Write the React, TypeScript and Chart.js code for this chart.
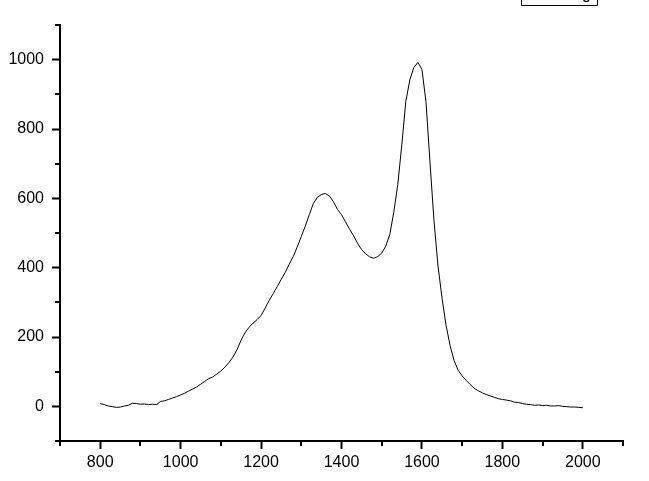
import React, { useEffect, useRef } from "react";
import { Chart, registerables } from "chart.js";

Chart.register(...registerables);

const wavenumbers: number[] = [
  800, 810, 820, 830, 840, 850, 860, 870, 880, 890,
  900, 910, 920, 930, 940, 950, 960, 970, 980, 990,
  1000, 1010, 1020, 1030, 1040, 1050, 1060, 1070, 1080, 1090,
  1100, 1110, 1120, 1130, 1140, 1150, 1160, 1170, 1180, 1190,
  1200, 1210, 1220, 1230, 1240, 1250, 1260, 1270, 1280, 1290,
  1300, 1310, 1320, 1330, 1340, 1350, 1360, 1370, 1380, 1390,
  1400, 1410, 1420, 1430, 1440, 1450, 1460, 1470, 1480, 1490,
  1500, 1510, 1520, 1530, 1540, 1550, 1560, 1570, 1580, 1590,
  1600, 1610, 1620, 1630, 1640, 1650, 1660, 1670, 1680, 1690,
  1700, 1710, 1720, 1730, 1740, 1750, 1760, 1770, 1780, 1790,
  1800, 1810, 1820, 1830, 1840, 1850, 1860, 1870, 1880, 1890,
  1900, 1910, 1920, 1930, 1940, 1950, 1960, 1970, 1980, 1990,
  2000,
];

const intensity: number[] = [
  8, 5, 1, -1, -3, -2, 1, 3, 9, 8,
  6, 7, 5, 6, 5, 14, 16, 20, 24, 28,
  33, 38, 44, 50, 56, 64, 72, 80, 85, 93,
  102, 113, 126, 142, 163, 190, 212, 228, 240, 250,
  262, 283, 305, 325, 345, 366, 386, 410, 432, 460,
  490, 520, 553, 585, 603, 611, 614, 607, 590, 568,
  553, 532, 511, 492, 470, 452, 440, 431, 427, 432,
  442, 462, 495, 560, 640, 755, 880, 942, 978, 992,
  972, 880, 705, 535, 405, 312, 234, 175, 132, 104,
  88, 75, 63, 52, 45, 39, 34, 30, 26, 22,
  20, 18, 16, 12, 11, 8, 6, 5, 3, 4,
  2, 3, 1, 1, 2, 0, -1, -2, -2, -3,
  -4,
];

const X_MIN = 700;
const X_MAX = 2100;
const Y_MIN = -100;
const Y_MAX = 1100;
const LABEL_STEP = 200;
const MINOR_STEP = 100;

const legendPlugin = {
  id: "legendBoxPartial",
  afterDraw(chart: any) {
    const ctx = chart.ctx;
    ctx.save();
    ctx.strokeStyle = "#000";
    ctx.lineWidth = 1;
    ctx.beginPath();
    ctx.moveTo(521.5, -2);
    ctx.lineTo(521.5, 5.5);
    ctx.lineTo(597.5, 5.5);
    ctx.lineTo(597.5, -2);
    ctx.stroke();
    ctx.fillStyle = "#000";
    ctx.font = "16px 'Liberation Sans', Arial, sans-serif";
    ctx.textBaseline = "alphabetic";
    ctx.fillText("g", 582, -1);
    ctx.restore();
  },
};

const minorTickPlugin = {
  id: "minorTicks",
  afterDraw(chart: any) {
    const ctx = chart.ctx;
    const xs = chart.scales.x;
    const ys = chart.scales.y;
    const area = chart.chartArea;
    ctx.save();
    ctx.strokeStyle = "#000";
    ctx.lineWidth = 2;
    ctx.beginPath();
    for (const t of xs.ticks) {
      if (t.value % LABEL_STEP !== 0) {
        const px = Math.round(xs.getPixelForValue(t.value));
        ctx.moveTo(px, area.bottom);
        ctx.lineTo(px, area.bottom + 5);
      }
    }
    for (const t of ys.ticks) {
      if (((t.value % LABEL_STEP) + LABEL_STEP) % LABEL_STEP !== 0) {
        const py = Math.round(ys.getPixelForValue(t.value));
        ctx.moveTo(area.left, py);
        ctx.lineTo(area.left - 5, py);
      }
    }
    ctx.stroke();
    ctx.restore();
  },
};

export default function App() {
  const ref = useRef<HTMLCanvasElement | null>(null);

  useEffect(() => {
    document.body.style.margin = "0";
    const canvas = ref.current;
    if (!canvas) return;
    const font = { family: "'Liberation Sans', Arial, sans-serif", size: 16 };
    const isMajor = (v: number) => ((v % LABEL_STEP) + LABEL_STEP) % LABEL_STEP === 0;
    const chart = new Chart(canvas, {
      type: "line",
      data: {
        datasets: [
          {
            data: wavenumbers.map((x, i) => ({ x, y: intensity[i] })),
            borderColor: "#000",
            borderWidth: 1,
            pointRadius: 0,
            tension: 0,
            fill: false,
          },
        ],
      },
      options: {
        animation: false,
        responsive: false,
        devicePixelRatio: 1,
        layout: { padding: { top: 25, right: 26, left: 0, bottom: 0 } },
        plugins: {
          legend: { display: false },
          tooltip: { enabled: false },
        },
        scales: {
          x: {
            type: "linear",
            min: X_MIN,
            max: X_MAX,
            afterFit: (s: any) => {
              s.height = 40;
            },
            border: { display: true, color: "#000", width: 2 },
            grid: {
              drawOnChartArea: false,
              drawTicks: true,
              tickLength: 8,
              tickWidth: 2,
              tickColor: (c: any) => (isMajor(c.tick.value) ? "#000" : "rgba(0,0,0,0)"),
            },
            ticks: {
              stepSize: MINOR_STEP,
              autoSkip: false,
              maxRotation: 0,
              color: "#000",
              font,
              padding: 4,
              callback: (v: any) => (isMajor(Number(v)) ? String(v) : ""),
            },
          },
          y: {
            type: "linear",
            min: Y_MIN,
            max: Y_MAX,
            afterFit: (s: any) => {
              s.width = 60;
            },
            border: { display: true, color: "#000", width: 2 },
            grid: {
              drawOnChartArea: false,
              drawTicks: true,
              tickLength: 8,
              tickWidth: 2,
              tickColor: (c: any) => (isMajor(c.tick.value) ? "#000" : "rgba(0,0,0,0)"),
            },
            ticks: {
              stepSize: MINOR_STEP,
              autoSkip: false,
              color: "#000",
              font,
              padding: 8,
              callback: (v: any) => (isMajor(Number(v)) ? String(v) : ""),
            },
          },
        },
      },
      plugins: [minorTickPlugin, legendPlugin],
    });
    return () => chart.destroy();
  }, []);

  return (
    <div style={{ position: "fixed", left: 0, top: 0, width: 649, height: 481, background: "#fff" }}>
      <canvas ref={ref} width={649} height={481} />
    </div>
  );
}
